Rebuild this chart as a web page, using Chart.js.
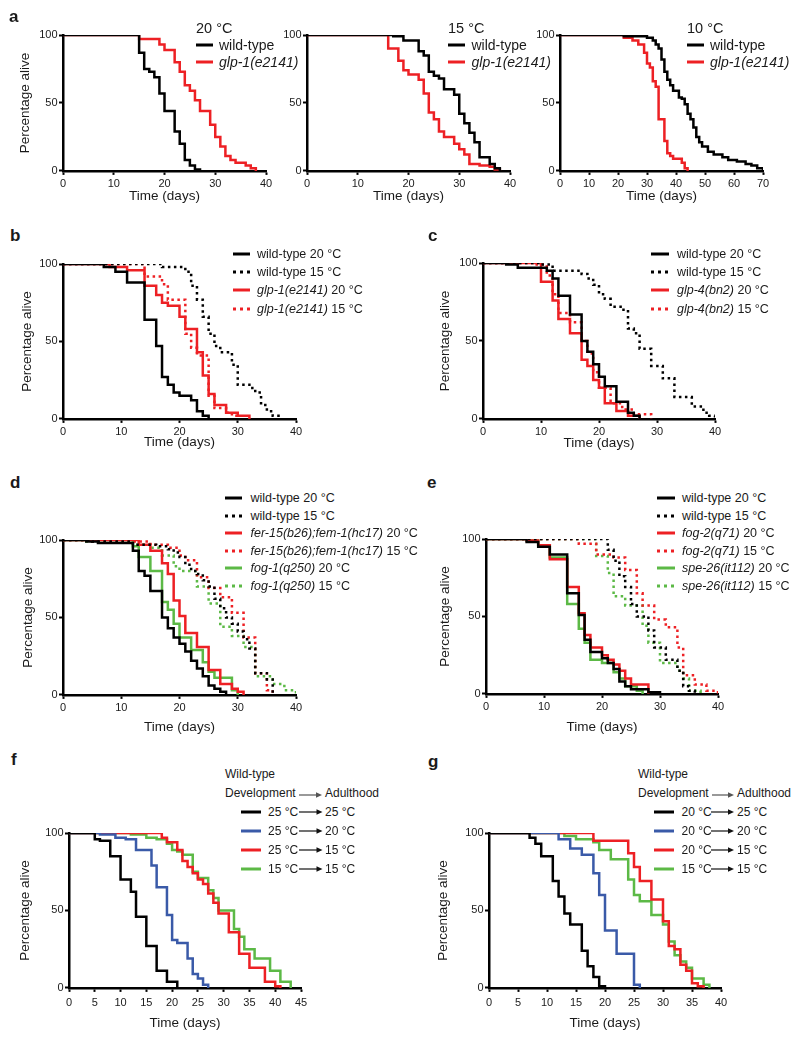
<!DOCTYPE html>
<html>
<head>
<meta charset="utf-8">
<title>Lifespan at different temperatures</title>
<script src="https://cdn.jsdelivr.net/npm/chart.js@4.4.1/dist/chart.umd.min.js"></script>
<style>
    body { margin: 0; background: #fff; }
    #fig { position: relative; width: 800px; height: 1040px; overflow: hidden;
           font-family: 'Liberation Sans', Arial, sans-serif; color: #1a1a1a; }
    #fig canvas { position: absolute; }
    .txt { position: absolute; transform: translateY(-50%); line-height: 1; white-space: nowrap; }
    .letter { font-weight: bold; font-size: 17px; }
    svg { position: absolute; overflow: visible; }
</style>
</head>
<body>
<div id="fig"></div>
<script>
// Survival curves, [day, % alive]
// a: glp-1 at 20, 15 and 10 °C
const a20_wt  = [[0,100],[15,87],[16,75],[17,73],[18,69],[19,57],[20,44],[22,29],[23,20],[24,8],[25,4],[26,1],[27,0]];
const a20_glp = [[0,100],[15,97],[19,93],[20,89],[22,80],[23,73],[24,63],[25,59],[26,52],[27,44],[29,34],[30,25],[31,18],[32,11],[33,8],[34,6],[36,4],[37,2],[38,0]];
const a15_wt  = [[0,100],[17,99],[19,96],[22,88],[23,85],[24,73],[25,70],[26,68],[27,60],[29,56],[30,42],[31,35],[32,28],[33,21],[34,10],[36,5],[37,2],[38,0]];
const a15_glp = [[0,100],[16,90],[18,81],[19,74],[20,71],[22,67],[23,57],[24,43],[25,38],[26,29],[27,25],[29,20],[30,16],[31,12],[32,5],[34,4],[36,3],[37,1],[38,0]];
const a10_wt  = [[0,100],[22,99],[30,98],[32,96],[33,93],[34,90],[35,82],[36,73],[37,67],[38,63],[39,59],[41,54],[42,53],[43,49],[44,42],[45,38],[46,32],[47,25],[48,21],[49,18],[51,14],[53,12],[56,10],[58,8],[61,7],[64,5],[66,4],[68,2],[70,0]];
const a10_glp = [[0,100],[22,98],[25,96],[27,93],[29,87],[30,79],[31,76],[32,66],[33,62],[34,38],[36,22],[37,13],[38,11],[39,9],[42,6],[43,2],[44,0]];

// b: glp-1(e2141)
const b_wt20  = [[0,100],[7,98],[9,95],[11,88],[14,64],[16,47],[17,27],[18,22],[19,17],[20,15],[22,12],[23,5],[24,2],[25,0]];
const b_wt15  = [[0,100],[17,98],[21,95],[22,86],[23,77],[24,66],[25,55],[26,47],[27,43],[29,35],[30,22],[32,20],[33,17],[34,9],[35,5],[36,2],[37,0]];
const b_glp20 = [[0,100],[8,98],[11,96],[14,86],[16,80],[17,75],[18,73],[20,66],[21,58],[23,43],[24,28],[25,16],[26,9],[28,4],[30,2],[32,0]];
const b_glp15 = [[0,100],[14,92],[17,87],[18,77],[21,55],[22,46],[23,41],[25,15],[26,7],[28,4],[29,2],[30,0]];

// c: glp-4(bn2)
const c_wt20  = [[0,100],[4,99],[6,97],[11,95],[12,90],[13,79],[15,67],[17,50],[18,43],[19,35],[20,27],[21,21],[23,11],[25,4],[26,2],[27,0]];
const c_wt15  = [[0,100],[10,99],[12,95],[17,93],[18,90],[19,86],[20,80],[21,77],[22,72],[24,70],[25,58],[26,55],[27,45],[29,34],[31,26],[33,14],[36,8],[38,4],[39,2],[40,0]];
const c_glp20 = [[0,100],[10,88],[12,76],[13,64],[15,55],[17,38],[18,34],[19,25],[20,20],[21,10],[23,5],[25,2],[27,0]];
const c_glp15 = [[0,100],[9,99],[11,92],[12,80],[13,68],[15,62],[17,50],[18,42],[19,30],[20,20],[22,10],[24,6],[26,3],[29,0]];

// d: fer-15;fem-1 and fog-1
const d_wt20  = [[0,100],[4,99],[6,98],[12,93],[13,80],[14,77],[15,67],[17,50],[18,43],[19,37],[20,33],[21,28],[22,22],[23,17],[24,12],[25,6],[26,4],[27,2],[28,0]];
const d_wt15  = [[0,100],[5,99],[12,97],[16,96],[18,94],[19,92],[20,89],[21,84],[22,80],[23,78],[24,74],[25,70],[26,62],[27,56],[28,50],[29,46],[30,41],[31,36],[32,30],[33,14],[35,10],[36,0]];
const d_fer20 = [[0,100],[13,97],[15,93],[17,85],[18,78],[19,61],[20,51],[21,40],[23,31],[25,16],[27,7],[29,4],[30,2],[31,0]];
const d_fer15 = [[0,100],[5,99],[15,97],[18,95],[20,90],[21,87],[23,76],[25,69],[27,63],[29,53],[31,37],[33,14],[35,3],[36,0]];
const d_fog20 = [[0,100],[12,96],[13,89],[15,80],[17,60],[18,55],[19,46],[20,37],[22,29],[24,21],[25,15],[26,11],[29,3],[30,0]];
const d_fog15 = [[0,100],[4,99],[12,97],[15,95],[17,90],[19,83],[20,80],[23,70],[25,59],[27,44],[29,38],[31,31],[33,12],[36,7],[38,3],[40,0]];

// e: fog-2 and spe-26
const e_wt20  = [[0,100],[7,98],[9,95],[11,90],[14,65],[16,51],[17,35],[18,27],[20,23],[21,20],[22,16],[23,8],[24,5],[25,3],[28,1],[30,0]];
const e_wt15  = [[0,100],[21,93],[22,86],[23,76],[24,69],[25,58],[26,50],[28,41],[29,30],[31,22],[33,15],[34,5],[35,2],[36,0]];
const e_fog20 = [[0,100],[7,99],[9,96],[11,87],[14,69],[16,52],[17,38],[18,30],[20,25],[21,22],[22,19],[23,15],[24,10],[25,6],[28,0]];
const e_fog15 = [[0,100],[16,97],[19,90],[22,88],[24,80],[26,65],[27,57],[29,48],[31,43],[33,30],[34,12],[36,6],[38,2],[40,0]];
const e_spe20 = [[0,100],[7,99],[9,96],[11,88],[14,58],[16,42],[17,33],[18,22],[20,20],[22,14],[23,10],[24,5],[26,2],[27,0]];
const e_spe15 = [[0,100],[19,89],[21,78],[22,63],[24,57],[27,44],[28,33],[30,20],[33,15],[34,10],[35,2],[37,0]];

// f: development at 25 °C, adulthood shifted
const f_25_25 = [[0,100],[5,96],[6,95],[8,85],[10,70],[12,62],[13,46],[15,27],[17,11],[19,4],[21,0]];
const f_25_20 = [[0,100],[6,99],[9,97],[11,96],[13,89],[16,79],[17,65],[19,47],[20,31],[21,29],[23,19],[24,9],[25,6],[26,2],[27,0]];
const f_25_15 = [[0,100],[18,97],[19,94],[21,89],[22,82],[23,78],[24,74],[25,70],[26,67],[27,61],[28,55],[29,48],[31,36],[33,22],[35,13],[38,4],[40,1],[41,0]];
const f_15_15 = [[0,100],[12,99],[15,97],[17,96],[19,93],[20,89],[21,88],[22,86],[24,75],[25,71],[27,63],[28,58],[29,50],[32,38],[33,33],[34,25],[36,19],[39,11],[41,4],[43,0]];

// g: development at 20 °C, adulthood shifted
const g_20_25 = [[0,100],[7,97],[8,93],[9,85],[11,69],[12,59],[13,48],[14,41],[16,24],[17,14],[18,7],[19,1],[20,0]];
const g_20_20 = [[0,100],[12,96],[14,90],[16,86],[18,74],[19,60],[20,37],[22,22],[25,2],[26,0]];
const g_20_15 = [[0,100],[18,95],[24,87],[25,78],[26,69],[28,57],[30,43],[31,27],[32,25],[33,15],[34,11],[35,3],[36,1],[37,0]];
const g_15_15 = [[0,100],[13,98],[15,96],[18,94],[19,89],[21,83],[24,70],[25,60],[26,56],[28,47],[30,41],[31,30],[32,21],[33,17],[34,13],[35,6],[37,2],[38,0]];

const yTicks = [0, 50, 100];

const BLACK = '#000000';
const RED = '#ed2024';
const GREEN = '#5cb946';
const BLUE = '#3a5aa8';

Chart.defaults.font.family = "'Liberation Sans', Arial, sans-serif";
Chart.defaults.color = '#1a1a1a';

class SurvivalFigure {
    constructor(root) {
        this.root = root;
    }

    text(x, y, html, size, cls = '') {
        const el = document.createElement('div');
        el.className = `txt ${cls}`;
        el.style.left = `${x}px`;
        el.style.top = `${y}px`;
        if (size) el.style.fontSize = `${size}px`;
        el.innerHTML = html;
        this.root.appendChild(el);
    }

    sample(x, w, y, color, dotted) {
        const dash = dotted ? 'stroke-dasharray="3 4"' : '';
        this.root.insertAdjacentHTML('beforeend',
            `<svg width="${w}" height="4" style="left:${x}px;top:${y - 2}px">
               <line x1="0" y1="2" x2="${w}" y2="2" stroke="${color}" stroke-width="3" ${dash}/>
             </svg>`);
    }

    arrow(x1, x2, y, color) {
        const w = x2 - x1;
        this.root.insertAdjacentHTML('beforeend',
            `<svg width="${w}" height="8" style="left:${x1}px;top:${y - 4}px">
               <line x1="0" y1="4" x2="${w - 4}" y2="4" stroke="${color}" stroke-width="1.2"/>
               <polygon points="${w - 6},1.3 ${w},4 ${w - 6},6.7" fill="${color}"/>
             </svg>`);
    }

    // box = plot area [left, top, right, bottom] in page pixels
    panel(p) {
        const [L, T, R, B] = p.box;
        const padTop = 10;
        const padRight = 14;
        const xh = p.xoff + 9.1;
        const left = L - p.yw;
        const top = T - padTop;
        const width = Math.round(R - left + padRight);
        const height = Math.round(B - top + xh);

        const canvas = document.createElement('canvas');
        canvas.width = width;
        canvas.height = height;
        canvas.style.left = `${left}px`;
        canvas.style.top = `${top}px`;
        canvas.style.width = `${width}px`;
        canvas.style.height = `${height}px`;
        this.root.appendChild(canvas);

        const axisCommon = {
            type: 'linear',
            border: { display: true, width: 2.5, color: BLACK },
            grid: { display: true, drawOnChartArea: false, drawTicks: true,
                    tickLength: 4, tickWidth: 2, tickColor: BLACK },
        };

        new Chart(canvas, {
            type: 'line',
            data: {
                datasets: p.series.map(s => ({
                    data: s.data.map(([x, y]) => ({ x, y })),
                    borderColor: s.color,
                    borderWidth: 2.5,
                    borderDash: s.dotted ? [2.5, 3.5] : [],
                    stepped: 'before',   // horizontal run, then drop at the death day
                    pointRadius: 0,
                    fill: false
                }))
            },
            options: {
                responsive: false,
                animation: false,
                events: [],
                layout: { padding: { top: padTop, right: padRight, left: 0, bottom: 0 } },
                plugins: { legend: { display: false }, tooltip: { enabled: false } },
                scales: {
                    x: {
                        ...axisCommon,
                        min: 0,
                        max: p.xMax,
                        ticks: { stepSize: p.xStep, autoSkip: false, maxRotation: 0,
                                 font: { size: 11 }, padding: p.tickPad },
                        title: { display: true, text: 'Time (days)', font: { size: 13.5 },
                                 padding: { top: 0, bottom: 1 } },
                        afterFit: s => { s.height = xh; }
                    },
                    y: {
                        ...axisCommon,
                        min: 0,
                        max: 100,
                        afterBuildTicks: s => { s.ticks = yTicks.map(v => ({ value: v })); },
                        ticks: { font: { size: 11 }, padding: 1.5 },
                        title: { display: p.yTitle, text: 'Percentage alive', font: { size: 13.5 },
                                 padding: { top: 4, bottom: 0 } },
                        afterFit: s => { s.width = p.yw; }
                    }
                }
            }
        });
    }

    legend(lg, series) {
        series.forEach((s, i) => {
            const y = lg.rows[i];
            this.sample(lg.sx, lg.sw, y, s.color, s.dotted);
            this.text(lg.tx, y, s.label, lg.size);
        });
    }

    // f and g: "development -> adulthood" legend
    shiftLegend(lg, series) {
        this.text(lg.sx - 16, lg.head[0], 'Wild-type', lg.size);
        this.text(lg.sx - 16, lg.head[1], 'Development', lg.size);
        this.arrow(lg.ax[0], lg.ax[1], lg.head[1] + 2, '#555');
        this.text(lg.ax[1] + 3, lg.head[1], 'Adulthood', lg.size);
        series.forEach((s, i) => {
            const y = lg.rows[i];
            this.sample(lg.sx, lg.sw, y, s.color, false);
            this.text(lg.tx, y, s.label[0], lg.size);
            this.arrow(lg.rx, lg.ax[1], y, '#111');
            this.text(lg.ax[1] + 3, y, s.label[1], lg.size);
        });
    }
}

const fig = new SurvivalFigure(document.getElementById('fig'));

const ser = (data, color, dotted, label) => ({ data, color, dotted, label });
const it = g => `<i>${g}</i>`;

const panels = [
    { letter: 'a', lx: 9, ly: 16, box: [63.3, 35, 266.7, 170.7], yw: 50, xoff: 25, tickPad: 2.5, xMax: 40, xStep: 10, yTitle: true,
      title: { x: 196, y: 28, text: '20 °C' },
      lg: { sx: 196, sw: 17, tx: 219, rows: [45, 61.5], size: 14 },
      series: [ser(a20_wt, BLACK, false, 'wild-type'), ser(a20_glp, RED, false, it('glp-1(e2141)'))] },
    { box: [307.3, 35, 510.7, 170.7], yw: 40, xoff: 25, tickPad: 2.5, xMax: 40, xStep: 10, yTitle: false,
      title: { x: 448, y: 28, text: '15 °C' },
      lg: { sx: 448, sw: 17, tx: 471.5, rows: [45, 61.5], size: 14 },
      series: [ser(a15_wt, BLACK, false, 'wild-type'), ser(a15_glp, RED, false, it('glp-1(e2141)'))] },
    { box: [560, 35, 763.3, 170.7], yw: 40, xoff: 25, tickPad: 2.5, xMax: 70, xStep: 10, yTitle: false,
      title: { x: 687, y: 28, text: '10 °C' },
      lg: { sx: 687, sw: 17, tx: 710, rows: [45, 61.5], size: 14 },
      series: [ser(a10_wt, BLACK, false, 'wild-type'), ser(a10_glp, RED, false, it('glp-1(e2141)'))] },
    { letter: 'b', lx: 10, ly: 235, box: [63.3, 264, 296.7, 419], yw: 48, xoff: 23, tickPad: 2.5, xMax: 40, xStep: 10, yTitle: true,
      lg: { sx: 233, sw: 17, tx: 257, rows: [254, 272, 290, 308.5], size: 12.5 },
      series: [ser(b_wt20, BLACK, false, 'wild-type 20 °C'), ser(b_wt15, BLACK, true, 'wild-type 15 °C'),
               ser(b_glp20, RED, false, `${it('glp-1(e2141)')} 20 °C`), ser(b_glp15, RED, true, `${it('glp-1(e2141)')} 15 °C`)] },
    { letter: 'c', lx: 428, ly: 235, box: [482.7, 262.7, 715, 418.3], yw: 50, xoff: 24, tickPad: 2.5, xMax: 40, xStep: 10, yTitle: true,
      lg: { sx: 651, sw: 18, tx: 677, rows: [254, 272, 290, 308.5], size: 12.5 },
      series: [ser(c_wt20, BLACK, false, 'wild-type 20 °C'), ser(c_wt15, BLACK, true, 'wild-type 15 °C'),
               ser(c_glp20, RED, false, `${it('glp-4(bn2)')} 20 °C`), ser(c_glp15, RED, true, `${it('glp-4(bn2)')} 15 °C`)] },
    { letter: 'd', lx: 10, ly: 482, box: [63.3, 540, 296.7, 695], yw: 47, xoff: 32, tickPad: 2.5, xMax: 40, xStep: 10, yTitle: true,
      lg: { sx: 225, sw: 17, tx: 250.5, rows: [498.3, 515.5, 533.3, 550.5, 568.3, 586.3], size: 12.5 },
      series: [ser(d_wt20, BLACK, false, 'wild-type 20 °C'), ser(d_wt15, BLACK, true, 'wild-type 15 °C'),
               ser(d_fer20, RED, false, `${it('fer-15(b26);fem-1(hc17)')} 20 °C`), ser(d_fer15, RED, true, `${it('fer-15(b26);fem-1(hc17)')} 15 °C`),
               ser(d_fog20, GREEN, false, `${it('fog-1(q250)')} 20 °C`), ser(d_fog15, GREEN, true, `${it('fog-1(q250)')} 15 °C`)] },
    { letter: 'e', lx: 427, ly: 482, box: [486, 538.7, 718.3, 693.3], yw: 53, xoff: 33, tickPad: 2.5, xMax: 40, xStep: 10, yTitle: true,
      lg: { sx: 657, sw: 18, tx: 682, rows: [498.3, 515.5, 533.3, 550.5, 568.3, 586.3], size: 12.5 },
      series: [ser(e_wt20, BLACK, false, 'wild-type 20 °C'), ser(e_wt15, BLACK, true, 'wild-type 15 °C'),
               ser(e_fog20, RED, false, `${it('fog-2(q71)')} 20 °C`), ser(e_fog15, RED, true, `${it('fog-2(q71)')} 15 °C`),
               ser(e_spe20, GREEN, false, `${it('spe-26(it112)')} 20 °C`), ser(e_spe15, GREEN, true, `${it('spe-26(it112)')} 15 °C`)] },
    { letter: 'f', lx: 11, ly: 759, box: [69.3, 832.7, 301.7, 987.3], yw: 56, xoff: 35, tickPad: 4.5, xMax: 45, xStep: 5, yTitle: true,
      shift: { sx: 241, sw: 20, tx: 268, rx: 298.5, ax: [299, 322], head: [774, 793], rows: [812.3, 831, 850, 869], size: 12 },
      series: [ser(f_25_25, BLACK, false, ['25 °C', '25 °C']), ser(f_25_20, BLUE, false, ['25 °C', '20 °C']),
               ser(f_25_15, RED, false, ['25 °C', '15 °C']), ser(f_15_15, GREEN, false, ['15 °C', '15 °C'])] },
    { letter: 'g', lx: 428, ly: 761, box: [489.3, 832.7, 721.7, 987.3], yw: 58, xoff: 35, tickPad: 4.5, xMax: 40, xStep: 5, yTitle: true,
      shift: { sx: 654, sw: 20, tx: 681.5, rx: 711, ax: [712, 734], head: [774, 793], rows: [812.3, 831, 850, 869], size: 12 },
      series: [ser(g_20_25, BLACK, false, ['20 °C', '25 °C']), ser(g_20_20, BLUE, false, ['20 °C', '20 °C']),
               ser(g_20_15, RED, false, ['20 °C', '15 °C']), ser(g_15_15, GREEN, false, ['15 °C', '15 °C'])] }
];

panels.forEach(p => {
    fig.panel(p);
    if (p.letter) fig.text(p.lx, p.ly, p.letter, null, 'letter');
    if (p.title) fig.text(p.title.x, p.title.y, p.title.text, 14.5);
    if (p.lg) fig.legend(p.lg, p.series);
    if (p.shift) fig.shiftLegend(p.shift, p.series);
});
</script>
</body>
</html>
